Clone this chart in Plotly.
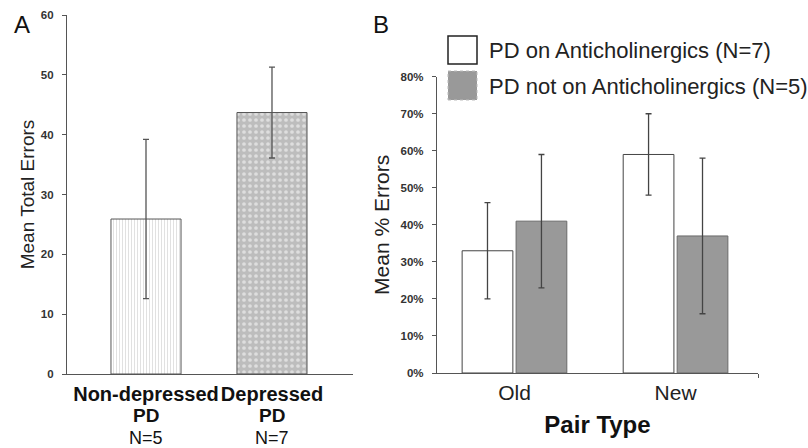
import plotly.graph_objects as go

# ---- Panel A data ----
groups_a = ["Non-depressed PD", "Depressed PD"]
n_a = ["N=5", "N=7"]
mean_total_errors = [25.9, 43.7]
err_total_errors = [13.3, 7.6]

# ---- Panel B data ----
pair_types = ["Old", "New"]
on_anticholinergic = [0.33, 0.59]
on_anticholinergic_err = [0.13, 0.11]
not_anticholinergic = [0.41, 0.37]
not_anticholinergic_err = [0.18, 0.21]
legend_labels = ["PD on Anticholinergics (N=7)", "PD not on Anticholinergics (N=5)"]

W, H = 808, 448
FONT = "Arial, Liberation Sans, sans-serif"
TXT = "#222222"

fig = go.Figure()

# Panel A bars
fig.add_trace(go.Bar(
    x=[0], y=[mean_total_errors[0]], width=0.556, xaxis="x", yaxis="y",
    marker=dict(color="white", line=dict(color="#555555", width=1),
                pattern=dict(shape="|", fgcolor="#c4c4c4", bgcolor="white", size=3, solidity=0.35)),
    error_y=dict(type="data", array=[err_total_errors[0]], color="#555555", thickness=1.3, width=3),
    showlegend=False))
fig.add_trace(go.Bar(
    x=[1], y=[mean_total_errors[1]], width=0.556, xaxis="x", yaxis="y",
    marker=dict(color="#c4c4c4", line=dict(color="#555555", width=1),
                pattern=dict(shape=".", fgcolor="white", bgcolor="#bdbdbd", size=6, solidity=0.3)),
    error_y=dict(type="data", array=[err_total_errors[1]], color="#555555", thickness=1.3, width=3),
    showlegend=False))

# Panel B bars
fig.add_trace(go.Bar(
    x=[0, 1], y=on_anticholinergic, width=0.315, offset=-0.325, xaxis="x2", yaxis="y2",
    marker=dict(color="white", line=dict(color="#444444", width=1)),
    error_y=dict(type="data", array=on_anticholinergic_err, color="#444444", thickness=1.3, width=3),
    name=legend_labels[0], showlegend=False))
fig.add_trace(go.Bar(
    x=[0, 1], y=not_anticholinergic, width=0.315, offset=0.01, xaxis="x2", yaxis="y2",
    marker=dict(color="#999999", line=dict(color="#6a6a6a", width=1)),
    error_y=dict(type="data", array=not_anticholinergic_err, color="#444444", thickness=1.3, width=3),
    name=legend_labels[1], showlegend=False))

def px_x(p):
    return p / W

def px_y(p):
    return 1 - p / H

names_a = [g.rsplit(" ", 1) for g in groups_a]
ticktext_a = ["<b>%s</b>" % a for a, b in names_a]

tickfont_small = dict(size=11.5, color="#333333", weight="bold")

fig.update_layout(
    width=W, height=H, margin=dict(l=0, r=0, t=0, b=0),
    paper_bgcolor="white", plot_bgcolor="white",
    barmode="overlay",
    font=dict(family=FONT, color=TXT),
    xaxis=dict(domain=[px_x(67), px_x(353)], range=[-0.627, 1.643], anchor="y",
               tickvals=[0, 1], ticktext=ticktext_a, ticks="", showline=True,
               linecolor="#555555", linewidth=1.3, showgrid=False, zeroline=False,
               tickfont=dict(size=20, color="#111111"), ticklabelstandoff=2, automargin=False),
    yaxis=dict(domain=[px_y(374), px_y(15)], range=[0, 60], anchor="x",
               tickvals=[0, 10, 20, 30, 40, 50, 60], ticks="outside", ticklen=4,
               tickcolor="#555555", showline=True, linecolor="#555555", linewidth=1.3,
               showgrid=False, zeroline=False,
               tickfont=tickfont_small, ticklabelstandoff=6,
               title=dict(text="Mean Total Errors", font=dict(size=19, color=TXT), standoff=1),
               automargin=False),
    xaxis2=dict(domain=[px_x(437), px_x(758)], range=[-0.481, 1.512], anchor="y2",
                tickvals=[0, 1], ticktext=pair_types, ticks="", showline=True,
                linecolor="#555555", linewidth=1.3, showgrid=False, zeroline=False,
                tickfont=dict(size=21, color=TXT), ticklabelstandoff=1,
                minor=dict(tickvals=[1.512], ticks="outside", ticklen=4, tickcolor="#555555"),
                title=dict(text="<b>Pair Type</b>", font=dict(size=24, color="#111111"), standoff=12),
                automargin=False),
    yaxis2=dict(domain=[px_y(373), px_y(76.7)], range=[0, 0.8], anchor="x2",
                tickvals=[0, 0.1, 0.2, 0.3, 0.4, 0.5, 0.6, 0.7, 0.8], tickformat=".0%",
                ticks="outside", ticklen=4, tickcolor="#555555", showline=True,
                linecolor="#555555", linewidth=1.3, showgrid=False, zeroline=False,
                tickfont=tickfont_small, ticklabelstandoff=6,
                title=dict(text="Mean % Errors", font=dict(size=21, color=TXT), standoff=5),
                automargin=False),
)

# Second line ("PD") and N counts under panel A categories
for i, (first, second) in enumerate(names_a):
    fig.add_annotation(x=i, y=px_y(415), xref="x", yref="paper", text="<b>%s</b>" % second,
                       showarrow=False, xanchor="center", yanchor="middle",
                       font=dict(size=19, color="#111111"))
    fig.add_annotation(x=i, y=px_y(437.5), xref="x", yref="paper", text=n_a[i],
                       showarrow=False, xanchor="center", yanchor="middle",
                       font=dict(size=18, color="#111111"))

# Panel labels
fig.add_annotation(x=px_x(12), y=px_y(24), xref="paper", yref="paper", text="A",
                   showarrow=False, xanchor="left", yanchor="middle",
                   font=dict(size=24, color="#111111"))
fig.add_annotation(x=px_x(371), y=px_y(24), xref="paper", yref="paper", text="B",
                   showarrow=False, xanchor="left", yanchor="middle",
                   font=dict(size=24, color="#111111"))

# Custom legend (large swatches)
fig.add_shape(type="rect", xref="paper", yref="paper",
              x0=px_x(448), x1=px_x(477), y0=px_y(64), y1=px_y(36),
              fillcolor="white", line=dict(color="#222222", width=1.5))
fig.add_shape(type="rect", xref="paper", yref="paper",
              x0=px_x(448), x1=px_x(477), y0=px_y(100), y1=px_y(71),
              fillcolor="#999999", line=dict(color="#bbbbbb", width=1, dash="dot"))
fig.add_annotation(x=px_x(487), y=px_y(50), xref="paper", yref="paper", text=legend_labels[0],
                   showarrow=False, xanchor="left", yanchor="middle",
                   font=dict(size=22, color=TXT))
fig.add_annotation(x=px_x(487), y=px_y(86), xref="paper", yref="paper", text=legend_labels[1],
                   showarrow=False, xanchor="left", yanchor="middle",
                   font=dict(size=22, color=TXT))

fig.write_html("out.html")
